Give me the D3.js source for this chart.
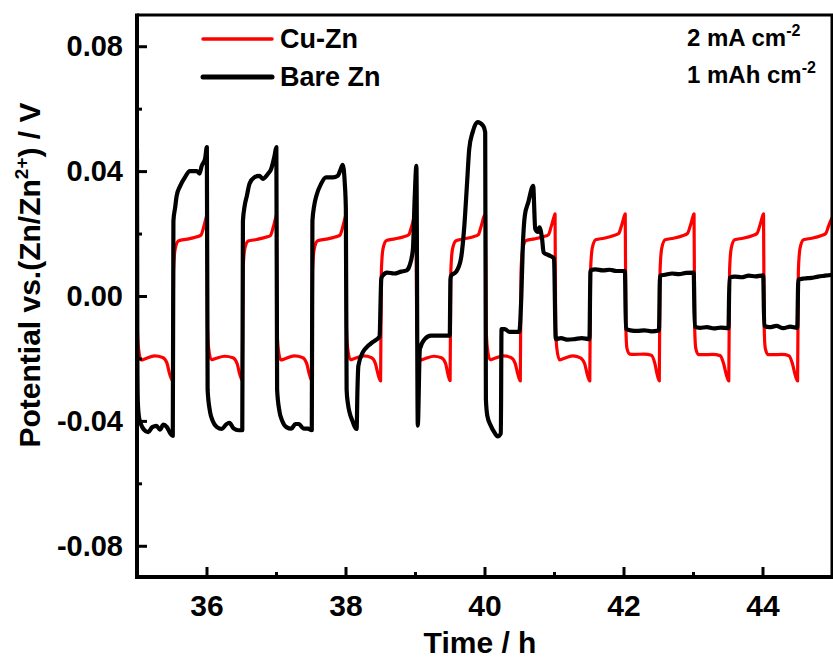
<!DOCTYPE html>
<html>
<head>
<meta charset="utf-8">
<script src="https://cdn.jsdelivr.net/npm/d3@7"></script>
<style>
  html, body { margin: 0; padding: 0; background: #fff; }
  svg { display: block; }
  text { font-family: "Liberation Sans", Arial, sans-serif; font-weight: bold; fill: #000; }
</style>
</head>
<body>
<script>
// ---- data ----
const seriesNames = ["Cu-Zn", "Bare Zn"];
const seriesColors = ["#ff0000", "#000000"];

// Cu-Zn: [time (h), potential (V)]
const cuZn = [
  [35.000,0.0262],[35.004,-0.0100],[35.020,-0.0165],[35.060,-0.0205],[35.120,-0.0201],[35.250,-0.0192],[35.370,-0.0197],[35.430,-0.0214],[35.470,-0.0250],[35.515,-0.0272],
  [35.526,0.0080],[35.550,0.0152],[35.600,0.0177],[35.720,0.0182],[35.850,0.0189],[35.920,0.0195],[35.960,0.0221],[36.000,0.0256],[36.007,0.0262],
  [36.014,-0.0100],[36.030,-0.0166],[36.070,-0.0204],[36.130,-0.0200],[36.260,-0.0193],[36.380,-0.0198],[36.440,-0.0216],[36.480,-0.0252],[36.515,-0.0270],
  [36.526,0.0080],[36.550,0.0150],[36.600,0.0176],[36.720,0.0181],[36.850,0.0188],[36.920,0.0194],[36.960,0.0220],[37.000,0.0255],[37.007,0.0261],
  [37.014,-0.0100],[37.030,-0.0165],[37.070,-0.0205],[37.130,-0.0201],[37.260,-0.0192],[37.380,-0.0197],[37.440,-0.0215],[37.480,-0.0251],[37.515,-0.0271],
  [37.526,0.0080],[37.550,0.0151],[37.600,0.0177],[37.720,0.0182],[37.850,0.0189],[37.920,0.0195],[37.960,0.0221],[38.000,0.0256],[38.007,0.0262],
  [38.014,-0.0100],[38.030,-0.0165],[38.070,-0.0204],[38.130,-0.0200],[38.260,-0.0192],[38.370,-0.0197],[38.430,-0.0216],[38.470,-0.0252],[38.505,-0.0272],
  [38.516,0.0080],[38.540,0.0152],[38.590,0.0178],[38.710,0.0183],[38.840,0.0190],[38.910,0.0196],[38.950,0.0222],[38.995,0.0256],[39.015,0.0262],
  [39.024,-0.0100],[39.040,-0.0166],[39.080,-0.0205],[39.140,-0.0201],[39.270,-0.0193],[39.380,-0.0198],[39.440,-0.0216],[39.475,-0.0252],[39.505,-0.0271],
  [39.516,0.0080],[39.540,0.0151],[39.590,0.0177],[39.710,0.0183],[39.840,0.0190],[39.910,0.0196],[39.950,0.0222],[39.995,0.0256],[40.015,0.0262],
  [40.024,-0.0100],[40.040,-0.0165],[40.080,-0.0204],[40.140,-0.0200],[40.270,-0.0192],[40.380,-0.0197],[40.440,-0.0215],[40.480,-0.0251],[40.515,-0.0272],
  [40.526,0.0080],[40.550,0.0152],[40.600,0.0178],[40.720,0.0183],[40.850,0.0190],[40.920,0.0196],[40.960,0.0223],[41.005,0.0257],[41.015,0.0263],
  [41.024,-0.0100],[41.040,-0.0166],[41.080,-0.0205],[41.140,-0.0200],[41.270,-0.0192],[41.380,-0.0198],[41.440,-0.0216],[41.480,-0.0252],[41.515,-0.0272],
  [41.526,0.0080],[41.550,0.0153],[41.600,0.0180],[41.720,0.0185],[41.850,0.0193],[41.930,0.0200],[41.970,0.0224],[42.015,0.0258],[42.025,0.0263],
  [42.034,-0.0100],[42.050,-0.0168],[42.090,-0.0186],[42.150,-0.0187],[42.300,-0.0186],[42.400,-0.0190],[42.450,-0.0215],[42.485,-0.0252],[42.515,-0.0272],
  [42.526,0.0080],[42.550,0.0153],[42.600,0.0180],[42.720,0.0185],[42.850,0.0193],[42.920,0.0200],[42.960,0.0224],[43.005,0.0258],[43.015,0.0263],
  [43.024,-0.0100],[43.040,-0.0168],[43.080,-0.0188],[43.140,-0.0188],[43.280,-0.0187],[43.390,-0.0191],[43.440,-0.0216],[43.480,-0.0252],[43.515,-0.0272],
  [43.526,0.0080],[43.550,0.0153],[43.600,0.0180],[43.720,0.0185],[43.850,0.0193],[43.920,0.0200],[43.960,0.0224],[44.005,0.0258],[44.015,0.0263],
  [44.024,-0.0100],[44.040,-0.0168],[44.080,-0.0188],[44.140,-0.0188],[44.280,-0.0187],[44.380,-0.0191],[44.430,-0.0216],[44.470,-0.0252],[44.505,-0.0272],
  [44.516,0.0080],[44.540,0.0153],[44.590,0.0180],[44.710,0.0185],[44.840,0.0193],[44.910,0.0200],[44.950,0.0224],[45.000,0.0250]
];

// Bare Zn: [time (h), potential (V)]
const bareZn = [
  [35.000,0.0470],[35.005,-0.0200],[35.012,-0.0340],[35.030,-0.0390],[35.060,-0.0412],[35.100,-0.0428],[35.160,-0.0436],[35.220,-0.0420],[35.280,-0.0416],[35.330,-0.0428],[35.380,-0.0412],[35.430,-0.0420],[35.480,-0.0440],[35.515,-0.0448],
  [35.524,0.0240],[35.550,0.0285],[35.570,0.0320],[35.620,0.0352],[35.690,0.0380],[35.760,0.0400],[35.860,0.0400],[35.900,0.0392],[35.930,0.0416],[35.980,0.0440],[36.005,0.0477],
  [36.016,-0.0300],[36.050,-0.0370],[36.090,-0.0400],[36.150,-0.0420],[36.220,-0.0426],[36.280,-0.0412],[36.330,-0.0406],[36.390,-0.0424],[36.460,-0.0430],[36.515,-0.0430],
  [36.524,0.0240],[36.550,0.0290],[36.580,0.0320],[36.620,0.0360],[36.690,0.0380],[36.760,0.0385],[36.810,0.0375],[36.880,0.0390],[36.930,0.0407],[36.980,0.0450],[37.005,0.0477],
  [37.016,-0.0300],[37.050,-0.0370],[37.090,-0.0400],[37.150,-0.0420],[37.220,-0.0425],[37.280,-0.0410],[37.330,-0.0410],[37.390,-0.0424],[37.460,-0.0425],[37.515,-0.0430],
  [37.524,0.0240],[37.550,0.0290],[37.580,0.0320],[37.650,0.0360],[37.720,0.0380],[37.820,0.0380],[37.890,0.0385],[37.920,0.0400],[37.960,0.0420],[37.990,0.0360],[38.005,0.0280],
  [38.016,-0.0300],[38.035,-0.0345],[38.100,-0.0400],[38.160,-0.0426],[38.172,-0.0300],[38.185,-0.0224],[38.250,-0.0180],[38.300,-0.0165],[38.390,-0.0148],[38.490,-0.0130],
  [38.515,0.0055],[38.530,0.0064],[38.600,0.0075],[38.700,0.0072],[38.800,0.0078],[38.880,0.0082],[38.920,0.0096],[38.970,0.0150],[38.995,0.0310],[39.020,0.0417],
  [39.040,-0.0415],[39.070,-0.0170],[39.140,-0.0138],[39.230,-0.0127],[39.500,-0.0127],
  [39.510,0.0054],[39.520,0.0065],[39.590,0.0077],[39.660,0.0118],[39.710,0.0225],[39.750,0.0365],[39.780,0.0470],[39.830,0.0525],[39.900,0.0557],[39.980,0.0545],[40.010,0.0525],
  [40.020,-0.0330],[40.040,-0.0383],[40.090,-0.0415],[40.140,-0.0436],[40.190,-0.0450],[40.235,-0.0440],[40.245,-0.0106],[40.290,-0.0106],[40.360,-0.0115],[40.500,-0.0115],
  [40.530,0.0000],[40.550,0.0150],[40.580,0.0257],[40.630,0.0300],[40.700,0.0353],[40.730,0.0215],[40.770,0.0205],[40.790,0.0220],[40.830,0.0180],[40.850,0.0140],[40.930,0.0130],[41.000,0.0120],
  [41.025,-0.0138],[41.100,-0.0135],[41.200,-0.0140],[41.300,-0.0138],[41.400,-0.0135],[41.510,-0.0138],
  [41.525,0.0082],[41.600,0.0085],[41.700,0.0082],[41.800,0.0084],[41.900,0.0080],[42.020,0.0080],
  [42.035,-0.0105],[42.100,-0.0110],[42.200,-0.0112],[42.300,-0.0110],[42.400,-0.0113],[42.510,-0.0110],
  [42.525,0.0065],[42.600,0.0068],[42.700,0.0072],[42.800,0.0070],[42.900,0.0074],[43.010,0.0075],
  [43.025,-0.0098],[43.100,-0.0102],[43.200,-0.0100],[43.300,-0.0104],[43.400,-0.0101],[43.510,-0.0103],
  [43.525,0.0058],[43.600,0.0062],[43.700,0.0060],[43.800,0.0065],[43.900,0.0063],[44.010,0.0066],
  [44.025,-0.0095],[44.100,-0.0100],[44.200,-0.0096],[44.300,-0.0103],[44.400,-0.0098],[44.500,-0.0102],
  [44.515,0.0052],[44.600,0.0056],[44.700,0.0058],[44.800,0.0062],[44.900,0.0065],[45.000,0.0068]
];

const xMajorTicks = [36, 38, 40, 42, 44];
const xMinorTicks = [35, 37, 39, 41, 43, 45];
const yMajorTicks = [-0.08, -0.04, 0.00, 0.04, 0.08];
const yMinorTicks = [-0.06, -0.02, 0.02, 0.06];
const xDomain = [35, 45];
const yDomain = [-0.09, 0.09];

// ---- layout ----
const W = 833, H = 658;
const L = 137, R = 832, T = 15, B = 577;

const svg = d3.select("body").append("svg").attr("width", W).attr("height", H);

const x = d3.scaleLinear().domain(xDomain).range([L, R]);
const y = d3.scaleLinear().domain(yDomain).range([B, T]);

// clip
svg.append("clipPath").attr("id", "plotclip")
  .append("rect").attr("x", L).attr("y", T).attr("width", R - L).attr("height", B - T);

// series
const line = d3.line().x(d => x(d[0])).y(d => y(d[1])).curve(d3.curveMonotoneX);
const plot = svg.append("g").attr("clip-path", "url(#plotclip)");
plot.append("path").datum(cuZn)
  .attr("d", line).attr("fill", "none").attr("stroke", seriesColors[0])
  .attr("stroke-width", 3.2).attr("stroke-linejoin", "round").attr("stroke-linecap", "round");
plot.append("path").datum(bareZn)
  .attr("d", line).attr("fill", "none").attr("stroke", seriesColors[1])
  .attr("stroke-width", 4.2).attr("stroke-linejoin", "round").attr("stroke-linecap", "round");

// axes: ticks pointing inward
const fmt = d => d.toFixed(2);
const yAx = svg.append("g").attr("transform", `translate(${L},0)`)
  .call(d3.axisLeft(y).tickValues(yMajorTicks).tickSize(-10).tickPadding(14).tickFormat(fmt));
const yAxMinor = svg.append("g").attr("transform", `translate(${L},0)`)
  .call(d3.axisLeft(y).tickValues(yMinorTicks).tickSize(-5).tickFormat(""));
const xAx = svg.append("g").attr("transform", `translate(0,${B})`)
  .call(d3.axisBottom(x).tickValues(xMajorTicks).tickSize(-10).tickPadding(18).tickFormat(d3.format("d")));
const xAxMinor = svg.append("g").attr("transform", `translate(0,${B})`)
  .call(d3.axisBottom(x).tickValues(xMinorTicks).tickSize(-5).tickFormat(""));

[yAx, yAxMinor, xAx, xAxMinor].forEach(g => {
  g.select(".domain").remove();
  g.selectAll(".tick line").attr("stroke", "#000").attr("stroke-width", 3);
  g.attr("font-family", null).attr("font-size", null);
});
yAx.selectAll(".tick text").attr("font-size", 29).style("font-weight", "bold");
xAx.selectAll(".tick text").attr("font-size", 30).style("font-weight", "bold");

// frame
svg.append("line").attr("x1", L).attr("x2", R + 2).attr("y1", T).attr("y2", T).attr("stroke", "#000").attr("stroke-width", 3);
svg.append("line").attr("x1", R).attr("x2", R).attr("y1", T).attr("y2", B).attr("stroke", "#000").attr("stroke-width", 3);
svg.append("line").attr("x1", L).attr("x2", L).attr("y1", T - 1.5).attr("y2", B + 2).attr("stroke", "#000").attr("stroke-width", 4);
svg.append("line").attr("x1", L - 2).attr("x2", R + 2).attr("y1", B).attr("y2", B).attr("stroke", "#000").attr("stroke-width", 4);

// axis titles
svg.append("text").attr("x", 480).attr("y", 653).attr("text-anchor", "middle")
  .attr("font-size", 30).text("Time / h");

const yt = svg.append("text").attr("transform", "translate(40,275) rotate(-90)")
  .attr("text-anchor", "middle").attr("font-size", 30);
yt.append("tspan").text("Potential vs.(Zn/Zn");
yt.append("tspan").attr("font-size", 19).attr("dy", -12).text("2+");
yt.append("tspan").attr("dy", 12).text(") / V");

// legend
const leg = svg.append("g");
const legY = [39, 77];
const legTextY = [48, 86];
const legW = [3.5, 5];
seriesNames.forEach((name, i) => {
  leg.append("line").attr("x1", 203).attr("x2", 272).attr("y1", legY[i]).attr("y2", legY[i])
    .attr("stroke", seriesColors[i]).attr("stroke-width", legW[i]).attr("stroke-linecap", "round");
  leg.append("text").attr("x", 280).attr("y", legTextY[i]).attr("font-size", 27).text(name);
});

// annotation
const ann = [["2 mA cm", "-2"], ["1 mAh cm", "-2"]];
const annY = [46, 83];
ann.forEach((a, i) => {
  const t = svg.append("text").attr("x", 687).attr("y", annY[i]).attr("font-size", 24);
  t.append("tspan").text(a[0]);
  t.append("tspan").attr("font-size", 16).attr("dy", -10).text(a[1]);
});
</script>
</body>
</html>
